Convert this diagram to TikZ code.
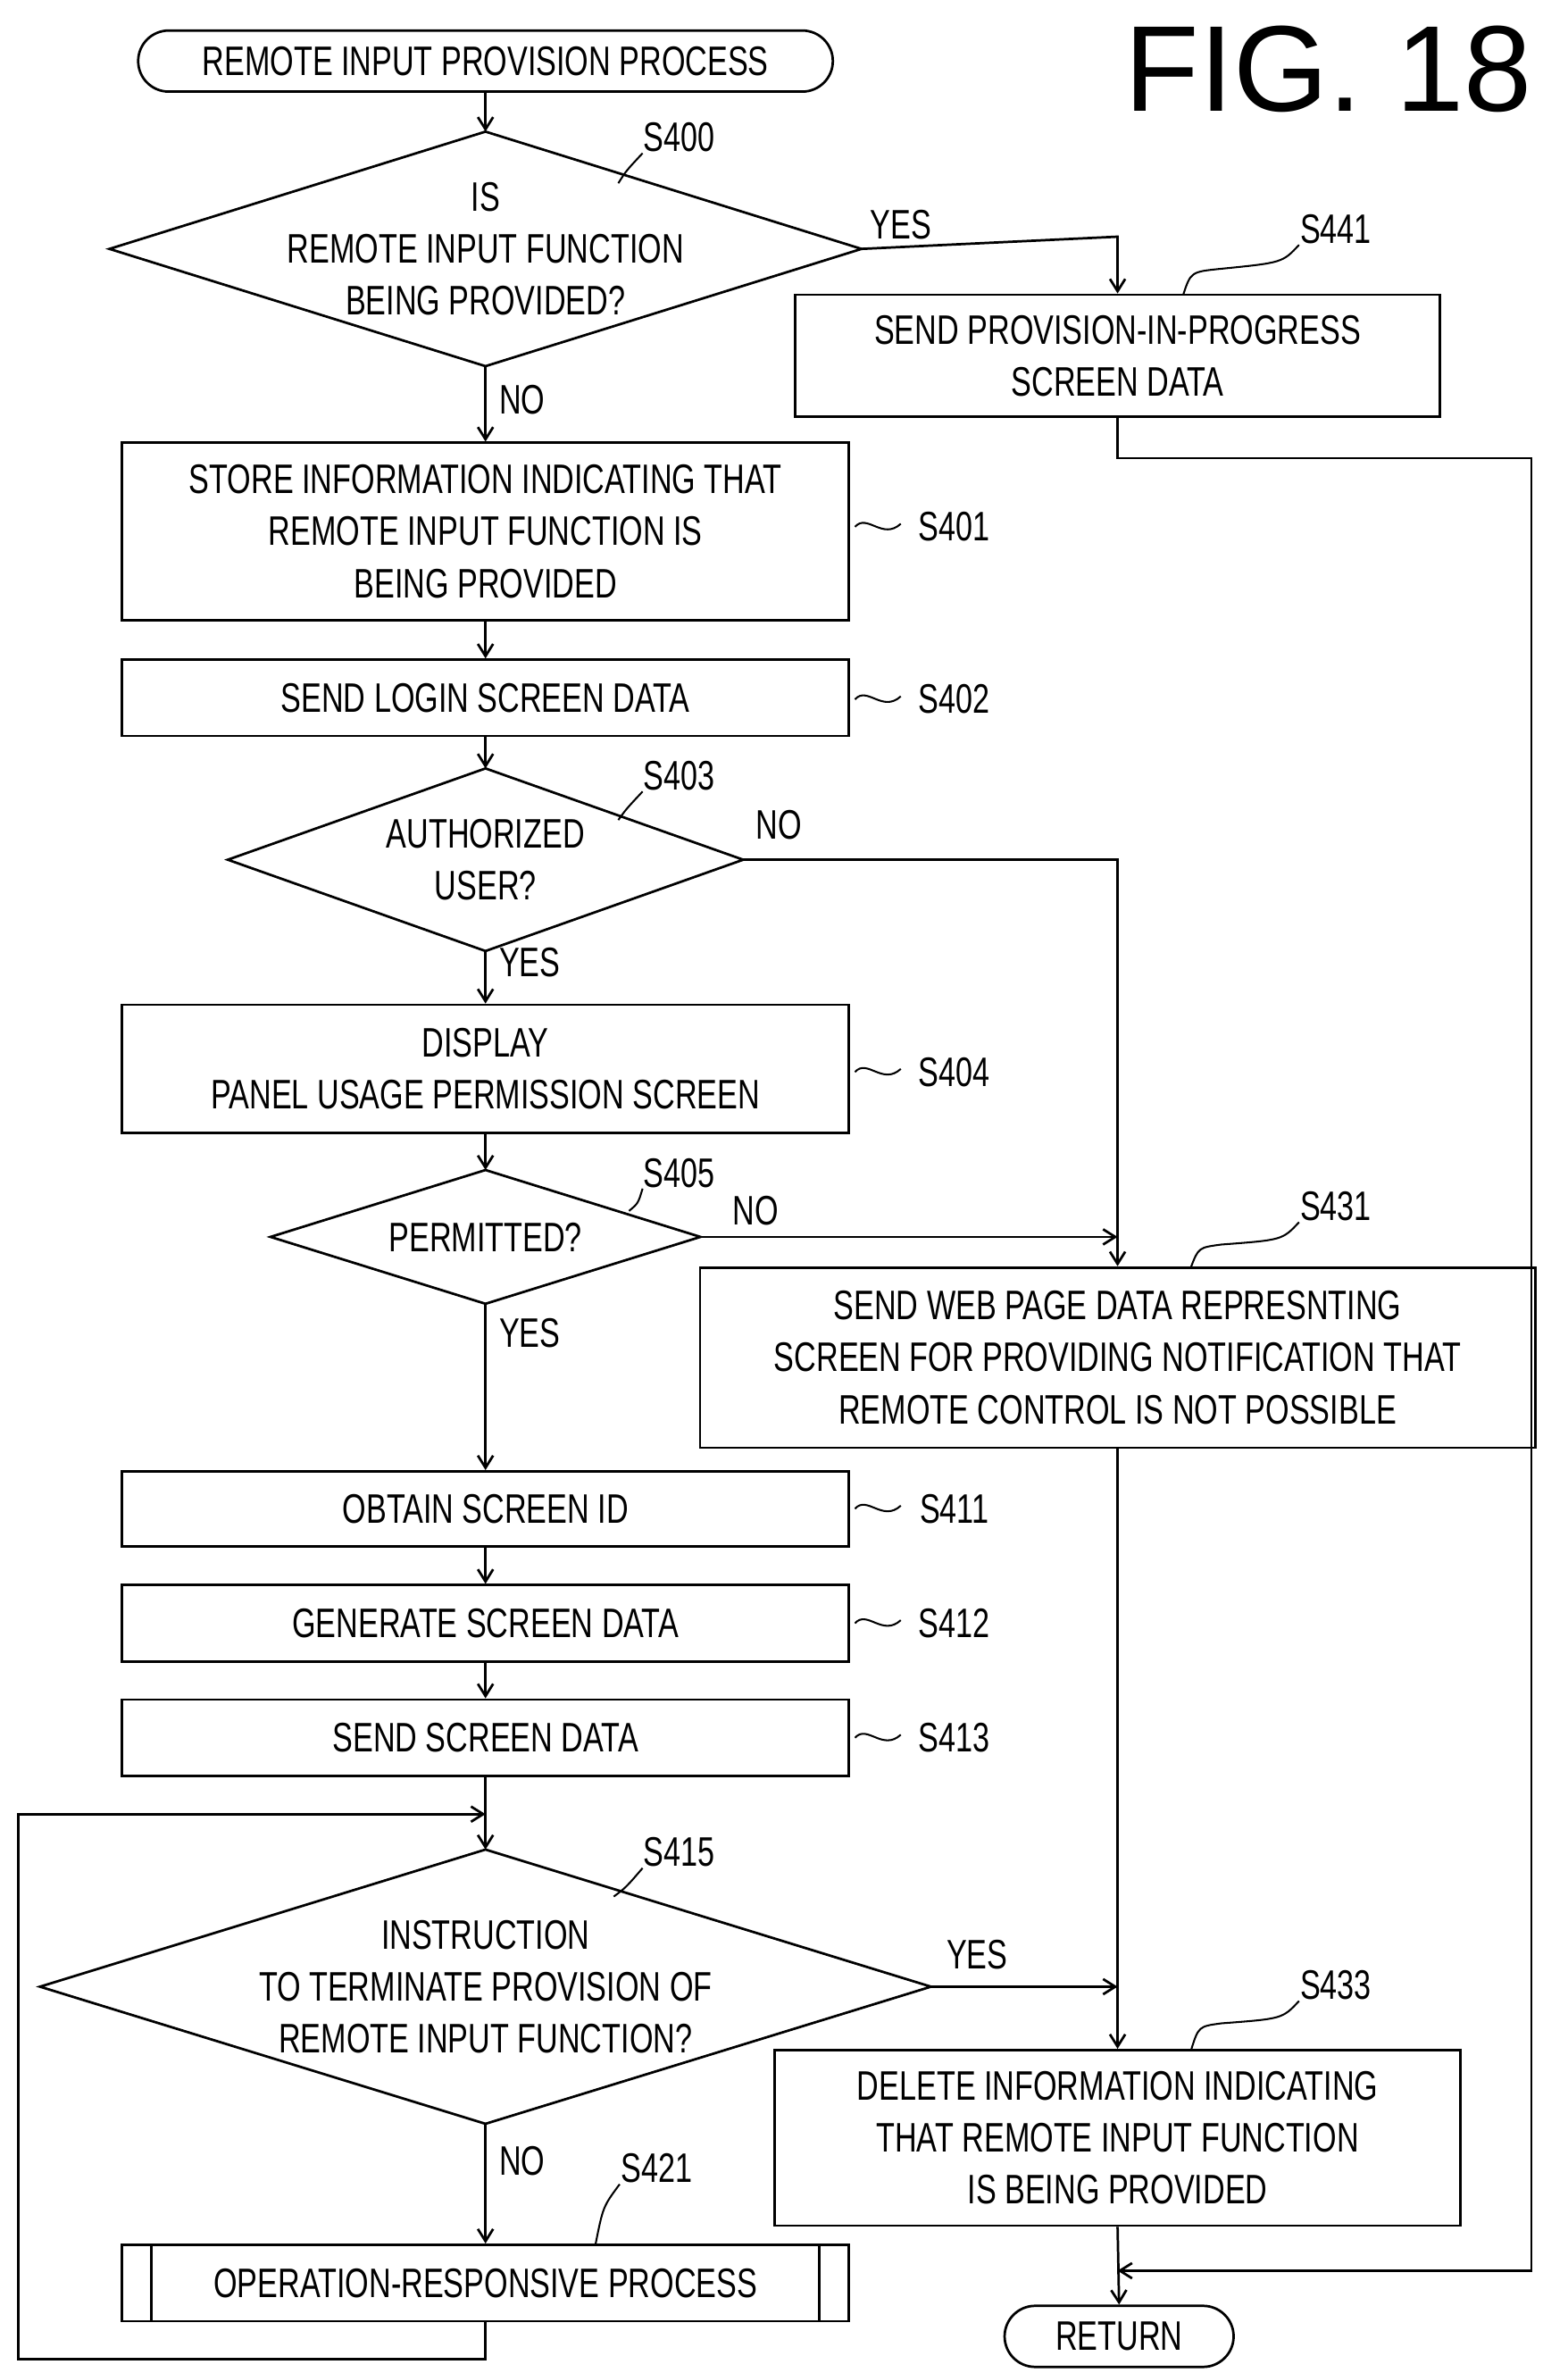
\documentclass[tikz,border=0pt]{standalone}
\usepackage{fontspec}
\setmainfont{Liberation Sans}[FakeStretch=0.74]
\newfontfamily\figfont{Liberation Sans}
\usetikzlibrary{arrows.meta}
\begin{document}
\begin{tikzpicture}[x=1pt,y=-1pt,line width=1.6pt,
 every node/.style={font=\fontsize{27}{34}\selectfont,align=center,inner sep=0},
 box/.style={draw,rectangle},
 dia/.style={rectangle},
 arr/.style={-{Straight Barb[length=8pt,width=10pt]}},
 term/.style={draw,rounded corners=20pt}]
\useasboundingbox (0,0) rectangle (1027,1554);
\node[font=\figfont\fontsize{80}{80}\selectfont] (fig) at (870,45) {FIG. 18};
\node[term,minimum width=455,minimum height=40] (start) at (318,40) {REMOTE INPUT PROVISION PROCESS};
% S400
\node[dia,minimum width=491,minimum height=152] (d400) at (318,163) {IS\\REMOTE INPUT FUNCTION\\BEING PROVIDED?};
\draw (d400.north)--(d400.east)--(d400.south)--(d400.west)--cycle;
\node (l400) at (445,90) {S400};
\node (y400) at (590,147) {YES};
\node (n400) at (342,262) {NO};
\node[box,minimum width=422,minimum height=80] (s441) at (732,233) {SEND PROVISION-IN-PROGRESS\\SCREEN DATA};
\node (l441) at (875,150) {S441};
\node[box,minimum width=476,minimum height=116] (s401) at (318,348) {STORE INFORMATION INDICATING THAT\\REMOTE INPUT FUNCTION IS\\BEING PROVIDED};
\node (l401) at (625,345) {S401};
\node[box,minimum width=476,minimum height=50] (s402) at (318,457) {SEND LOGIN SCREEN DATA};
\node (l402) at (625,458) {S402};
% S403
\node[dia,minimum width=336,minimum height=118] (d403) at (318,563) {AUTHORIZED\\USER?};
\draw (d403.north)--(d403.east)--(d403.south)--(d403.west)--cycle;
\node (l403) at (445,508) {S403};
\node (n403) at (510,540) {NO};
\node (y403) at (347,630) {YES};
\node[box,minimum width=476,minimum height=84] (s404) at (318,700) {DISPLAY\\PANEL USAGE PERMISSION SCREEN};
\node (l404) at (625,702) {S404};
% S405
\node[dia,minimum width=280,minimum height=86] (d405) at (318,810) {PERMITTED?};
\draw (d405.north)--(d405.east)--(d405.south)--(d405.west)--cycle;
\node (l405) at (445,768) {S405};
\node (n405) at (495,793) {NO};
\node (y405) at (347,873) {YES};
\node[box,minimum width=547,minimum height=118] (s431) at (732,889) {SEND WEB PAGE DATA REPRESNTING\\SCREEN FOR PROVIDING NOTIFICATION THAT\\REMOTE CONTROL IS NOT POSSIBLE};
\node (l431) at (875,790) {S431};
\node[box,minimum width=476,minimum height=49] (s411) at (318,988) {OBTAIN SCREEN ID};
\node (l411) at (625,988) {S411};
\node[box,minimum width=476,minimum height=50] (s412) at (318,1063) {GENERATE SCREEN DATA};
\node (l412) at (625,1063) {S412};
\node[box,minimum width=476,minimum height=50] (s413) at (318,1138) {SEND SCREEN DATA};
\node (l413) at (625,1138) {S413};
% S415
\node[dia,minimum width=582,minimum height=178] (d415) at (318,1301) {INSTRUCTION\\TO TERMINATE PROVISION OF\\REMOTE INPUT FUNCTION?};
\draw (d415.north)--(d415.east)--(d415.south)--(d415.west)--cycle;
\node (l415) at (445,1213) {S415};
\node (y415) at (640,1280) {YES};
\node (n415) at (342,1415) {NO};
\node (l421) at (430,1420) {S421};
\node[box,minimum width=476,minimum height=50] (s421) at (318,1495) {OPERATION-RESPONSIVE PROCESS};
\draw ([xshift=20pt]s421.north west)--([xshift=20pt]s421.south west);
\draw ([xshift=-20pt]s421.north east)--([xshift=-20pt]s421.south east);
\node[box,minimum width=449,minimum height=115] (s433) at (732,1400) {DELETE INFORMATION INDICATING\\THAT REMOTE INPUT FUNCTION\\IS BEING PROVIDED};
\node (l433) at (875,1300) {S433};
\node[term,minimum width=150,minimum height=40] (ret) at (733,1530) {RETURN};
% coordinates
\coordinate (c1) at (732,155);
\coordinate (c2) at (732,300);
\coordinate (c3) at (1003,300);
\coordinate (c4) at (1003,1487);
\coordinate (c5) at (732,1487);
\coordinate (c6) at (732,563);
\coordinate (c7) at (732,810);
\coordinate (c8) at (732,1301);
\coordinate (c9) at (318,1545);
\coordinate (c10) at (12,1545);
\coordinate (c11) at (12,1188);
\coordinate (c12) at (318,1188);
% connectors
\draw[arr] (start)--(d400.north);
\draw[arr] (d400.east)--(c1)--(s441.north);
\draw[arr] (d400.south)--(s401);
\draw[arr] (s401)--(s402);
\draw[arr] (s402)--(d403.north);
\draw (d403.east)--(c6)--(c7);
\draw[arr] (c7)--(s431.north);
\draw[arr] (d403.south)--(s404);
\draw[arr] (s404)--(d405.north);
\draw[arr] (d405.east)--(c7);
\draw[arr] (d405.south)--(s411);
\draw[arr] (s411)--(s412);
\draw[arr] (s412)--(s413);
\draw[arr] (s413)--(d415.north);
\draw[arr] (d415.south)--(s421);
\draw[arr] (s421.south)--(c9)--(c10)--(c11)--(c12);
\draw[arr] (d415.east)--(c8);
\draw[arr] (s431.south)--(s433.north);
\draw[arr] (s433.south)--(ret.north);
\draw[arr] (s441.south)--(c2)--(c3)--(c4)--(c5);
% label ticks
\foreach \y in {345,458,702,988,1063,1138}
  \draw[line width=1.2pt] (560,\y) .. controls (568,\y-9) and (578,\y+9) .. (590,\y-2);
\draw[line width=1.2pt] (l400.south west) .. controls (410,112) .. (405,120);
\draw[line width=1.2pt] (l403.south west) .. controls (410,530) .. (405,537);
\draw[line width=1.2pt] (l405.south west) .. controls (418,788) .. (412,793);
\draw[line width=1.2pt] (l415.south west) .. controls (410,1236) .. (402,1242);
\draw[line width=1.2pt] (l441.south west) .. controls (840,172) .. (800,176) .. controls (780,178) .. (775,193);
\draw[line width=1.2pt] (l431.south west) .. controls (840,812) .. (800,815) .. controls (785,817) .. (780,830);
\draw[line width=1.2pt] (l433.south west) .. controls (840,1322) .. (800,1325) .. controls (785,1327) .. (780,1343);
\draw[line width=1.2pt] (l421.south west) .. controls (395,1445) .. (390,1470);
\end{tikzpicture}
\end{document}
